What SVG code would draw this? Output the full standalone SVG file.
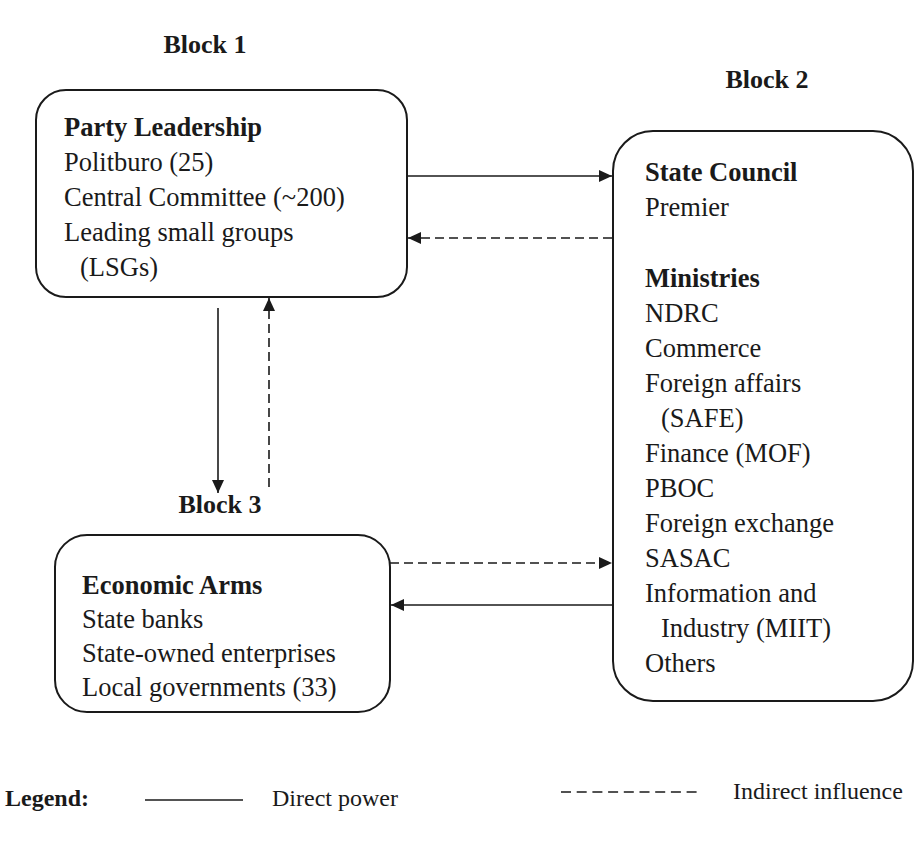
<svg xmlns="http://www.w3.org/2000/svg" width="919" height="843" viewBox="0 0 919 843">
  <style>
    .box { fill: #ffffff; stroke: #1a1a1a; stroke-width: 2; }
    .t { font-family: "Liberation Serif", "Times New Roman", serif; font-size: 26.5px; fill: #1a1a1a; }
    .b { font-weight: bold; }
    .lbl { font-family: "Liberation Serif", "Times New Roman", serif; font-size: 26px; font-weight: bold; fill: #1a1a1a; }
    .leg { font-family: "Liberation Serif", "Times New Roman", serif; font-size: 24px; fill: #1a1a1a; }
    .solid { stroke: #1a1a1a; stroke-width: 1.6; fill: none; }
    .dash { stroke: #1a1a1a; stroke-width: 1.6; fill: none; stroke-dasharray: 9 5; }
  </style>
  <defs>
    <marker id="arrow" markerUnits="userSpaceOnUse" markerWidth="14" markerHeight="12" refX="13" refY="6" orient="auto">
      <path d="M0,0 L13,6 L0,12 z" fill="#1a1a1a"/>
    </marker>
  </defs>
  <rect width="919" height="843" fill="#ffffff"/>

  <g id="block1">
    <text class="lbl" x="205" y="53" text-anchor="middle">Block 1</text>
    <rect class="box" x="36" y="90" width="371" height="207" rx="30" ry="30"/>
    <text class="t b" x="64" y="136">Party Leadership</text>
    <text class="t" x="64" y="171">Politburo (25)</text>
    <text class="t" x="64" y="206">Central Committee (~200)</text>
    <text class="t" x="64" y="241">Leading small groups</text>
    <text class="t" x="80" y="276">(LSGs)</text>
  </g>

  <g id="block2">
    <text class="lbl" x="767" y="88" text-anchor="middle">Block 2</text>
    <rect class="box" x="613" y="131" width="300" height="570" rx="40" ry="40"/>
    <text class="t b" x="645" y="181">State Council</text>
    <text class="t" x="645" y="216">Premier</text>
    <text class="t b" x="645" y="287">Ministries</text>
    <text class="t" x="645" y="322">NDRC</text>
    <text class="t" x="645" y="357">Commerce</text>
    <text class="t" x="645" y="392">Foreign affairs</text>
    <text class="t" x="661" y="427">(SAFE)</text>
    <text class="t" x="645" y="462">Finance (MOF)</text>
    <text class="t" x="645" y="497">PBOC</text>
    <text class="t" x="645" y="532">Foreign exchange</text>
    <text class="t" x="645" y="567">SASAC</text>
    <text class="t" x="645" y="602">Information and</text>
    <text class="t" x="661" y="637">Industry (MIIT)</text>
    <text class="t" x="645" y="672">Others</text>
  </g>

  <g id="block3">
    <text class="lbl" x="220" y="513" text-anchor="middle">Block 3</text>
    <rect class="box" x="55" y="535" width="335" height="177" rx="32" ry="32"/>
    <text class="t b" x="82" y="594">Economic Arms</text>
    <text class="t" x="82" y="628">State banks</text>
    <text class="t" x="82" y="662">State-owned enterprises</text>
    <text class="t" x="82" y="696">Local governments (33)</text>
  </g>

  <g id="connectors">
    <line class="solid" x1="407" y1="176" x2="612" y2="176" marker-end="url(#arrow)"/>
    <line class="dash" x1="612" y1="238" x2="408" y2="238" marker-end="url(#arrow)"/>
    <line class="solid" x1="218" y1="308" x2="218" y2="493" marker-end="url(#arrow)"/>
    <line class="dash" x1="269" y1="487" x2="269" y2="298" marker-end="url(#arrow)"/>
    <line class="dash" x1="390" y1="563" x2="612" y2="563" marker-end="url(#arrow)"/>
    <line class="solid" x1="612" y1="605" x2="391" y2="605" marker-end="url(#arrow)"/>
  </g>

  <g id="legend">
    <text class="leg b" x="5" y="806">Legend:</text>
    <line class="solid" x1="145" y1="800" x2="243" y2="800"/>
    <text class="leg" x="272" y="806">Direct power</text>
    <line x1="561" y1="792" x2="702" y2="792" stroke="#1a1a1a" stroke-width="1.6" stroke-dasharray="10 5.7"/>
    <text class="leg" x="733" y="799">Indirect influence</text>
  </g>
</svg>
